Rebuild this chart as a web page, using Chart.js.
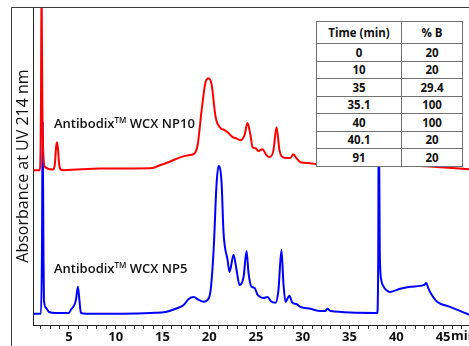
<!DOCTYPE html>
<html>
<head>
<meta charset="utf-8">
<script src="https://cdn.jsdelivr.net/npm/chart.js@4.4.1/dist/chart.umd.min.js"></script>
<style>
  html, body { margin: 0; padding: 0; background: #fff; overflow: hidden; }
  #wrap { position: relative; width: 469px; height: 346px; }
  .lbl { position: absolute; font-family: "Open Sans", sans-serif; font-weight: 600; font-size: 13px; color: #111; white-space: nowrap; }
  .lbl sup { font-size: 8px; vertical-align: 5px; line-height: 0; }
  #grad { position: absolute; left: 316px; top: 21px; width: 147px; border-collapse: collapse; background: #fff; table-layout: fixed;
          font-family: "Open Sans", sans-serif; font-weight: 700; font-size: 11.5px; color: #111; }
  #grad td { border: 1.5px solid #707070; text-align: center; padding: 0; line-height: 13px; }
  #grad tr { height: 17.5px; }
  #grad tr.head { height: 22px; }
  #minLbl { position: absolute; left: 451px; top: 326px; font-family: "Open Sans", sans-serif; font-weight: 700; font-size: 13px; color: #111; }
</style>
</head>
<body>
<div id="wrap">
  <canvas id="hplcChart" width="469" height="346"></canvas>
  <div class="lbl" id="lblTop" style="left:54px; top:114px;"></div>
  <div class="lbl" id="lblBottom" style="left:54px; top:259px;"></div>
  <table id="grad"></table>
  <div id="minLbl">min</div>
</div>
<script>
// retention time (min) and signal above baseline
var timeNP10 = [1.2, 1.9, 2.01, 2.07, 2.16, 2.28, 2.44, 3.3, 3.5, 3.62, 3.72, 3.82, 3.95, 4.1, 4.4,
  8.4, 13.75, 14.8, 15.9, 16.95, 17.8, 18.33, 18.76, 19.19, 19.61, 19.93, 20.25, 20.68, 21.21, 21.64,
  21.97, 22.49, 22.81, 23.35, 23.77, 24.09, 24.41, 24.63, 24.95, 25.27, 25.69, 26.12, 26.44, 26.87,
  27.19, 27.51, 27.83, 28.36, 28.68, 29.0, 29.32, 29.75, 30.81, 31.45, 35.1, 42.5, 44.7, 47.8];
var signalNP10 = [0, 0, 20, 60, 20, 4, 1, 0.2, 2, 7, 8.8, 7, 2, 0.3, 0,
  0.5, 0.6, 1.6, 2.8, 4.1, 4.7, 5.0, 7.9, 18.9, 27.7, 28.9, 27.0, 16.7, 13.2, 12.6,
  11.9, 10.4, 10.1, 9.4, 11.0, 14.8, 11.0, 7.2, 6.9, 6.0, 6.6, 4.7, 4.1, 6.3,
  13.5, 6.3, 4.1, 3.8, 3.8, 5.0, 3.8, 2.5, 2.2, 1.9, 1.6, 1.3, 0.9, 0.3];

var timeNP5 = [1.2, 2.01, 2.12, 2.19, 2.28, 2.33, 2.55, 2.87, 3.6, 5.0, 5.21, 5.53, 5.75, 5.96, 6.12, 6.28, 6.8,
  13.75, 15.35, 16.41, 17.27, 17.8, 18.33, 18.87, 19.4, 19.83, 20.15, 20.47, 20.79, 21.0, 21.32, 21.53,
  21.96, 22.17, 22.6, 22.92, 23.24, 23.67, 23.99, 24.2, 24.52, 24.84, 25.16, 25.48, 25.8, 26.23, 26.65,
  27.08, 27.4, 27.72, 27.93, 28.15, 28.57, 28.89, 29.32, 29.75, 30.81, 31.88, 32.41, 32.63, 32.95,
  37.96, 38.07, 38.12, 38.23, 38.39, 38.6, 38.92, 39.35, 40.41, 41.48, 42.55, 42.97, 43.19, 43.4,
  43.72, 44.36, 45.75, 47.8];
var signalNP5 = [0, 0, 20, 60, 20, 4.4, 1.9, 0.6, 0.3, 0.3, 1.3, 2.5, 4.4, 8.5, 4.4, 0.3, 0,
  0.3, 0.6, 1.6, 2.8, 4.7, 5.3, 4.4, 3.8, 4.4, 7.5, 20.1, 41.2, 46.5, 41.2, 25.5,
  17.0, 13.2, 18.6, 13.8, 9.1, 11.6, 19.8, 12.9, 8.5, 8.2, 6.0, 5.3, 5.0, 5.3, 3.8,
  3.5, 7.5, 20.1, 9.7, 3.8, 5.7, 3.5, 3.1, 2.2, 1.6, 0.9, 0.9, 1.6, 0.9,
  0.3, 20, 70, 20, 10.7, 8.8, 7.5, 6.9, 7.9, 8.5, 8.8, 9.1, 9.7, 8.2,
  6.3, 3.8, 2.2, -0.3];

var offsetNP10 = 48.7;
var offsetNP5 = 3.5;

var seriesNames = ['NP10', 'NP5'];
var xTickLabels = [5, 10, 15, 20, 25, 30, 35, 40, 45];

// gradient table
var gradTime = ['0', '10', '35', '35.1', '40', '40.1', '91'];
var gradB = ['20', '20', '29.4', '100', '100', '20', '20'];

function toPoints(t, s, off) {
  var pts = [];
  for (var i = 0; i < t.length; i++) pts.push({ x: t[i], y: s[i] + off });
  return pts;
}

var minorTicks = [];
for (var m = 2; m <= 47; m++) minorTicks.push({ value: m });

// outer figure frame
var framePlugin = {
  id: 'frame',
  afterDraw: function (chart) {
    var c = chart.ctx;
    c.save();
    c.strokeStyle = '#3a3a3a';
    c.lineWidth = 1;
    c.beginPath();
    c.moveTo(11.5, 346);
    c.lineTo(11.5, 7.5);
    c.lineTo(469, 7.5);
    c.stroke();
    c.restore();
  }
};

var ctx = document.getElementById('hplcChart').getContext('2d');
var chart = new Chart(ctx, {
  type: 'line',
  data: {
    datasets: [{
      label: seriesNames[0],
      data: toPoints(timeNP10, signalNP10, offsetNP10),
      borderColor: 'rgb(255, 0, 0)',
      borderWidth: 2,
      pointRadius: 0,
      cubicInterpolationMode: 'monotone',
      fill: false
    }, {
      label: seriesNames[1],
      data: toPoints(timeNP5, signalNP5, offsetNP5),
      borderColor: 'rgb(0, 0, 255)',
      borderWidth: 2,
      pointRadius: 0,
      cubicInterpolationMode: 'monotone',
      fill: false
    }]
  },
  options: {
    responsive: false,
    animation: false,
    layout: { padding: { top: 7, left: 0, right: 0, bottom: 0 } },
    plugins: { legend: { display: false }, tooltip: { enabled: false } },
    scales: {
      x: {
        type: 'linear',
        min: 1.16,
        max: 47.77,
        afterFit: function (s) { s.height = 21; },
        afterBuildTicks: function (s) { s.ticks = minorTicks.slice(); },
        grid: { display: true, drawOnChartArea: false, drawTicks: true, tickLength: 4, tickColor: '#333' },
        border: { display: true, color: '#222', width: 1 },
        ticks: {
          autoSkip: false,
          maxRotation: 0,
          padding: 0,
          color: '#111',
          font: { family: 'Open Sans', size: 13, weight: '700' },
          callback: function (v) { return xTickLabels.indexOf(v) >= 0 ? String(v) : ''; }
        }
      },
      y: {
        min: 0,
        max: 100,
        afterFit: function (s) { s.width = 33; },
        grid: { display: false },
        border: { display: true, color: '#222', width: 1 },
        ticks: { display: false },
        title: {
          display: true,
          text: 'Absorbance at UV 214 nm',
          color: '#111',
          padding: { top: 14, bottom: 0 },
          font: { family: 'Open Sans', size: 16, weight: '500' }
        }
      }
    }
  },
  plugins: [framePlugin]
});

document.getElementById('lblTop').innerHTML = 'Antibodix<sup>TM</sup> WCX ' + seriesNames[0];
document.getElementById('lblBottom').innerHTML = 'Antibodix<sup>TM</sup> WCX ' + seriesNames[1];

var tbl = document.getElementById('grad');
var html = '<tr class="head"><td style="width:84px">Time (min)</td><td>% B</td></tr>';
for (var i = 0; i < gradTime.length; i++) {
  html += '<tr><td>' + gradTime[i] + '</td><td>' + gradB[i] + '</td></tr>';
}
tbl.innerHTML = html;
</script>
</body>
</html>
